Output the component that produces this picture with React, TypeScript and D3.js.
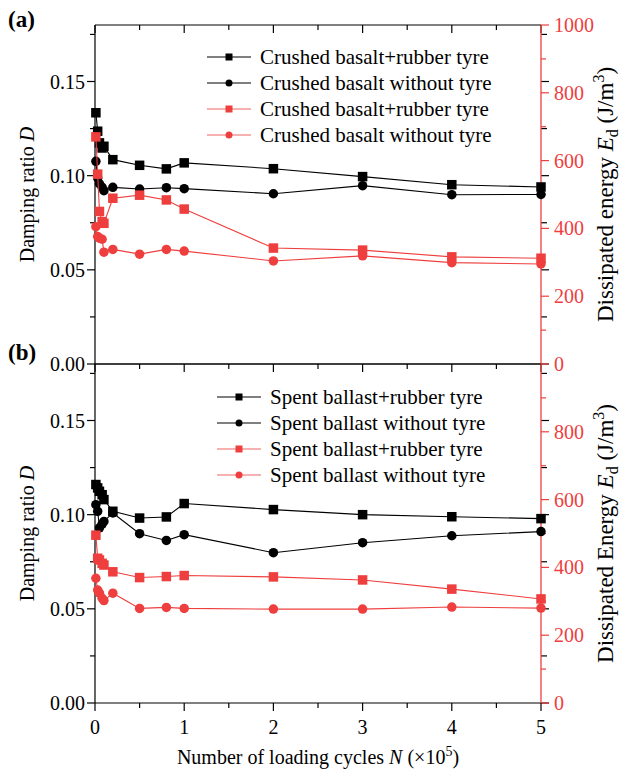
import React from "react";
import * as d3 from "d3";

const X = [0.01, 0.03, 0.05, 0.08, 0.1, 0.2, 0.5, 0.8, 1, 2, 3, 4, 5];

const aRubberD = [0.1334, 0.1236, 0.1174, 0.1147, 0.1156, 0.1085, 0.1055, 0.1036, 0.1068, 0.1037, 0.0995, 0.0952, 0.094];
const aNoTyreD = [0.1076, 0.0988, 0.0957, 0.0938, 0.092, 0.0938, 0.0929, 0.0936, 0.0931, 0.0904, 0.0947, 0.0899, 0.09];
const aRubberE = [670, 560, 450, 420, 415, 489, 498, 484, 457, 342, 336, 316, 312];
const aNoTyreE = [405, 376, 371, 368, 330, 338, 324, 338, 333, 304, 319, 299, 295];

const bRubberD = [0.116, 0.1142, 0.1124, 0.1106, 0.108, 0.1018, 0.0982, 0.0988, 0.1059, 0.1027, 0.1, 0.0989, 0.0979];
const bNoTyreD = [0.1053, 0.1018, 0.093, 0.095, 0.0964, 0.1009, 0.0899, 0.0863, 0.0894, 0.0798, 0.0851, 0.0888, 0.091];
const bRubberE = [495, 427, 422, 412, 407, 387, 370, 373, 376, 372, 363, 336, 307];
const bNoTyreE = [368, 333, 324, 309, 302, 324, 279, 282, 279, 277, 277, 283, 280];

const aLegend = ["Crushed basalt+rubber tyre", "Crushed basalt without tyre", "Crushed basalt+rubber tyre", "Crushed basalt without tyre"];
const bLegend = ["Spent ballast+rubber tyre", "Spent ballast without tyre", "Spent ballast+rubber tyre", "Spent ballast without tyre"];

const xTicksMajor = [0, 1, 2, 3, 4, 5];
const xTicksMinor = [0.5, 1.5, 2.5, 3.5, 4.5];
const dTicks = [0, 0.05, 0.1, 0.15];
const dMinor = [0.025, 0.075, 0.125, 0.175];
const eTicksA = [0, 200, 400, 600, 800, 1000];
const eTicksB = [0, 200, 400, 600, 800];
const eMinor = [100, 300, 500, 700, 900];

const RED = "#ef3e3e";
const FS = 20;
const L = 95, R = 541;
const x = d3.scaleLinear().domain([0, 5]).range([L, R]);

function Marker({ shape, cx, cy, color, s }: any) {
  if (shape === "square") return <rect x={cx - s / 2} y={cy - s / 2} width={s} height={s} fill={color} />;
  return <circle cx={cx} cy={cy} r={s / 2} fill={color} />;
}

function Series({ vals, y, color, shape }: any) {
  const line = d3.line<number>().x((_, i) => x(X[i])).y((v) => y(v));
  return (
    <g>
      <path d={line(vals) || ""} fill="none" stroke={color} strokeWidth={1.1} />
      {vals.map((v: number, i: number) => (
        <Marker key={i} shape={shape} cx={x(X[i])} cy={y(v)} color={color} s={9.5} />
      ))}
    </g>
  );
}

function Panel({ top, bottom, series, legend, legX, legY, eTicks, rightTitle, label, labelY }: any) {
  const yD = d3.scaleLinear().domain([0, 0.18]).range([bottom, top]);
  const yE = d3.scaleLinear().domain([0, 1000]).range([bottom, top]);
  const mid = (top + bottom) / 2;
  return (
    <g>
      <line x1={L} x2={R} y1={top} y2={top} stroke="#000" strokeWidth={1.2} />
      <line x1={L} x2={R} y1={bottom} y2={bottom} stroke="#000" strokeWidth={1.2} />
      <line x1={L} x2={L} y1={top} y2={bottom} stroke="#000" strokeWidth={1.2} />
      {xTicksMajor.map((t) => (
        <line key={"tm" + t} x1={x(t)} x2={x(t)} y1={top} y2={top + 8} stroke="#000" strokeWidth={1.2} />
      ))}
      {xTicksMinor.map((t) => (
        <line key={"tn" + t} x1={x(t)} x2={x(t)} y1={top} y2={top + 5} stroke="#000" strokeWidth={1.2} />
      ))}
      {dTicks.map((t) => (
        <g key={"d" + t}>
          <line x1={L - 8} x2={L} y1={yD(t)} y2={yD(t)} stroke="#000" strokeWidth={1.2} />
          <line x1={R} x2={R + 8} y1={yD(t)} y2={yD(t)} stroke="#000" strokeWidth={1.2} />
          <text x={L - 10} y={yD(t)} dy="0.35em" textAnchor="end" fontSize={FS}>
            {t.toFixed(2)}
          </text>
        </g>
      ))}
      {dMinor.map((t) => (
        <g key={"dm" + t}>
          <line x1={L - 5} x2={L} y1={yD(t)} y2={yD(t)} stroke="#000" strokeWidth={1.2} />
          <line x1={R} x2={R + 6} y1={yD(t)} y2={yD(t)} stroke="#000" strokeWidth={1.2} />
        </g>
      ))}
      <line x1={R} x2={R} y1={top} y2={bottom} stroke={RED} strokeWidth={1.3} />
      {eTicks.map((t: number) => (
        <g key={"e" + t}>
          <line x1={R} x2={R + 8} y1={yE(t)} y2={yE(t)} stroke={RED} strokeWidth={1.2} />
          <text x={R + 13} y={yE(t)} dy="0.35em" fontSize={FS} fill={RED}>
            {t}
          </text>
        </g>
      ))}
      {eMinor.map((t) => (
        <line key={"em" + t} x1={R} x2={R + 5} y1={yE(t)} y2={yE(t)} stroke={RED} strokeWidth={1.2} />
      ))}
      <text transform={`translate(34,${mid}) rotate(-90)`} textAnchor="middle" fontSize={FS}>
        Damping ratio <tspan fontStyle="italic">D</tspan>
      </text>
      <text transform={`translate(613,${mid}) rotate(-90)`} textAnchor="middle" fontSize={23}>
        {rightTitle} <tspan fontStyle="italic">E</tspan>
        <tspan fontSize={16} dy={5}>d</tspan>
        <tspan dy={-5}> (J/m</tspan>
        <tspan fontSize={16} dy={-9}>3</tspan>
        <tspan dy={9}>)</tspan>
      </text>
      <text x={8} y={labelY} fontSize={23} fontWeight="bold">
        {label}
      </text>
      <Series vals={series[0]} y={yD} color="#000" shape="square" />
      <Series vals={series[1]} y={yD} color="#000" shape="circle" />
      <Series vals={series[2]} y={yE} color={RED} shape="square" />
      <Series vals={series[3]} y={yE} color={RED} shape="circle" />
      {legend.map((t: string, i: number) => {
        const yy = legY + i * 26;
        const c = i < 2 ? "#000" : RED;
        return (
          <g key={"l" + i}>
            <line x1={legX} x2={legX + 44} y1={yy} y2={yy} stroke={c} strokeWidth={1.1} opacity={i < 2 ? 1 : 0.8} />
            <Marker shape={i % 2 === 0 ? "square" : "circle"} cx={legX + 22} cy={yy} color={c} s={7} />
            <text x={legX + 53} y={yy} dy="0.33em" fontSize={21}>
              {t}
            </text>
          </g>
        );
      })}
    </g>
  );
}

export default function App() {
  return (
    <svg
      width={625}
      height={770}
      style={{ position: "absolute", left: 0, top: 0, background: "#fff", fontFamily: "Liberation Serif" }}
    >
      <Panel
        top={25}
        bottom={364}
        series={[aRubberD, aNoTyreD, aRubberE, aNoTyreE]}
        legend={aLegend}
        legX={207}
        legY={57}
        eTicks={eTicksA}
        rightTitle="Dissipated energy"
        label="(a)"
        labelY={27}
      />
      <Panel
        top={364}
        bottom={703}
        series={[bRubberD, bNoTyreD, bRubberE, bNoTyreE]}
        legend={bLegend}
        legX={217}
        legY={397}
        eTicks={eTicksB}
        rightTitle="Dissipated Energy"
        label="(b)"
        labelY={360}
      />
      {xTicksMajor.map((t) => (
        <g key={"bx" + t}>
          <line x1={x(t)} x2={x(t)} y1={703} y2={711} stroke="#000" strokeWidth={1.2} />
          <text x={x(t)} y={727} dy="0.35em" textAnchor="middle" fontSize={FS}>
            {t}
          </text>
        </g>
      ))}
      {xTicksMinor.map((t) => (
        <line key={"bxm" + t} x1={x(t)} x2={x(t)} y1={703} y2={708} stroke="#000" strokeWidth={1.2} />
      ))}
      <text x={318} y={764} textAnchor="middle" fontSize={FS}>
        Number of loading cycles <tspan fontStyle="italic">N</tspan> (×10
        <tspan fontSize={14} dy={-8}>5</tspan>
        <tspan dy={8}>)</tspan>
      </text>
    </svg>
  );
}
